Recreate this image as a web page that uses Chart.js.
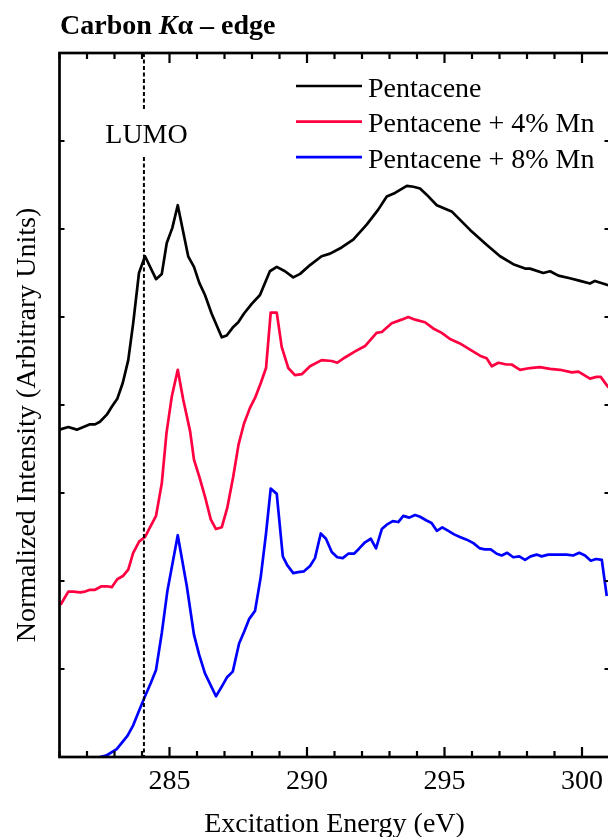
<!DOCTYPE html>
<html lang="en">
<head>
    <meta charset="UTF-8">
    <title>Carbon K-alpha edge</title>
    <script src="https://cdn.jsdelivr.net/npm/chart.js"></script>
    <style>
        body { margin: 0; overflow: hidden; background: #fff; }
    </style>
</head>
<body>
    <canvas id="xasChart" width="620" height="837"></canvas>
    <script>
        // Series labels and colours
        const seriesLabels = ['Pentacene', 'Pentacene + 4% Mn', 'Pentacene + 8% Mn'];
        const seriesColors = ['#000000', '#ff0040', '#0000ff'];
        const xMajorTicks = [285, 290, 295, 300];
        const lumoEnergy = 284.07;

        // Pentacene (offset upward)
        const pentaceneEnergy = [281.0, 281.32, 281.63, 281.87, 282.11, 282.29, 282.47, 282.72, 282.9, 283.1,
            283.3, 283.5, 283.68, 283.89, 284.11, 284.51, 284.72, 284.9, 285.1, 285.3,
            285.68, 285.89, 286.08, 286.29, 286.53, 286.9, 287.08, 287.3, 287.5, 287.71,
            287.99, 288.29, 288.65, 288.9, 289.2, 289.5, 289.75, 290.11, 290.53, 290.84,
            291.26, 291.68, 292.17, 292.59, 292.9, 293.2, 293.63, 293.87, 294.11, 294.35,
            294.72, 295.26, 295.93, 296.53, 297.02, 297.5, 297.93, 298.11, 298.59, 298.84,
            299.14, 299.56, 299.93, 300.29, 300.47, 300.96];
        const pentaceneIntensity = [3.72, 3.75, 3.72, 3.75, 3.78, 3.78, 3.81, 3.89, 3.98, 4.07,
            4.25, 4.51, 4.93, 5.5, 5.69, 5.43, 5.49, 5.84, 6.01, 6.27,
            5.69, 5.57, 5.39, 5.25, 5.04, 4.77, 4.79, 4.88, 4.94, 5.04,
            5.15, 5.25, 5.52, 5.57, 5.52, 5.45, 5.49, 5.59, 5.69, 5.72,
            5.79, 5.88, 6.05, 6.22, 6.37, 6.41, 6.49, 6.48, 6.46, 6.39,
            6.27, 6.2, 5.99, 5.82, 5.69, 5.6, 5.55, 5.55, 5.5, 5.52,
            5.47, 5.44, 5.41, 5.38, 5.41, 5.36];

        // Pentacene + 4% Mn
        const mn4Energy = [281.04, 281.32, 281.5, 281.75, 281.93, 282.11, 282.29, 282.53, 282.72, 282.9,
            283.1, 283.32, 283.5, 283.68, 283.9, 284.11, 284.29, 284.51, 284.72, 284.89,
            285.08, 285.3, 285.5, 285.75, 285.89, 286.08, 286.29, 286.5, 286.69, 286.9,
            287.1, 287.32, 287.51, 287.71, 287.93, 288.11, 288.32, 288.51, 288.68, 288.9,
            289.08, 289.32, 289.56, 289.81, 290.11, 290.53, 290.9, 291.1, 291.38, 291.75,
            292.11, 292.53, 292.72, 293.08, 293.44, 293.68, 293.93, 294.29, 294.59, 294.9,
            295.2, 295.56, 295.93, 296.29, 296.53, 296.72, 296.96, 297.26, 297.44, 297.75,
            298.11, 298.47, 298.84, 299.2, 299.63, 299.87, 300.29, 300.53, 300.68, 300.96];
        const mn4Intensity = [1.73, 1.88, 1.88, 1.87, 1.88, 1.9, 1.9, 1.94, 1.94, 1.93,
            2.02, 2.06, 2.13, 2.32, 2.45, 2.5, 2.61, 2.74, 3.11, 3.68,
            4.09, 4.4, 4.06, 3.7, 3.38, 3.19, 2.96, 2.7, 2.59, 2.61,
            2.83, 3.19, 3.55, 3.79, 3.97, 4.08, 4.25, 4.42, 5.05, 5.05,
            4.66, 4.42, 4.34, 4.35, 4.44, 4.51, 4.5, 4.48, 4.54, 4.61,
            4.67, 4.82, 4.83, 4.93, 4.97, 5.0, 4.97, 4.94, 4.87, 4.82,
            4.75, 4.7, 4.63, 4.56, 4.53, 4.44, 4.48, 4.46, 4.46, 4.4,
            4.42, 4.43, 4.41, 4.4, 4.37, 4.38, 4.3, 4.32, 4.32, 4.2];

        // Pentacene + 8% Mn
        const mn8Energy = [282.47, 282.72, 283.08, 283.47, 283.68, 283.9, 284.11, 284.32, 284.51, 284.72,
            284.92, 285.3, 285.63, 285.89, 286.08, 286.29, 286.69, 286.9, 287.1, 287.3,
            287.53, 287.71, 287.9, 288.11, 288.32, 288.51, 288.68, 288.9, 289.12, 289.28,
            289.5, 289.68, 289.89, 290.11, 290.29, 290.5, 290.69, 290.9, 291.1, 291.3,
            291.5, 291.71, 291.9, 292.11, 292.32, 292.51, 292.72, 292.9, 293.12, 293.32,
            293.5, 293.72, 293.93, 294.11, 294.33, 294.53, 294.72, 294.92, 295.14, 295.35,
            295.56, 295.81, 296.05, 296.29, 296.47, 296.68, 296.9, 297.08, 297.28, 297.5,
            297.72, 297.93, 298.13, 298.35, 298.53, 298.77, 299.08, 299.44, 299.68, 299.9,
            300.11, 300.32, 300.51, 300.72, 300.9];
        const mn8Intensity = [0.0, 0.02, 0.09, 0.24, 0.36, 0.53, 0.69, 0.84, 0.99, 1.41,
            1.88, 2.52, 1.94, 1.39, 1.16, 0.95, 0.69, 0.8, 0.91, 0.97,
            1.29, 1.42, 1.57, 1.66, 2.05, 2.54, 3.05, 2.99, 2.28, 2.18,
            2.09, 2.1, 2.11, 2.17, 2.26, 2.54, 2.48, 2.33, 2.27, 2.26,
            2.31, 2.31, 2.37, 2.44, 2.48, 2.37, 2.59, 2.64, 2.68, 2.67,
            2.74, 2.72, 2.75, 2.73, 2.69, 2.66, 2.57, 2.61, 2.57, 2.53,
            2.5, 2.47, 2.43, 2.37, 2.36, 2.36, 2.31, 2.29, 2.32, 2.27,
            2.28, 2.24, 2.28, 2.3, 2.28, 2.3, 2.3, 2.3, 2.29, 2.32,
            2.29, 2.23, 2.25, 2.24, 1.83];

        const SERIF = '"Liberation Serif", "Times New Roman", serif';

        function zip(xs, ys) {
            return xs.map((x, i) => ({ x: x, y: ys[i] }));
        }

        const seriesData = [
            zip(pentaceneEnergy, pentaceneIntensity),
            zip(mn4Energy, mn4Intensity),
            zip(mn8Energy, mn8Intensity)
        ];

        // frame, inward ticks, LUMO marker, title, legend and axis titles
        const decorations = {
            id: 'decorations',
            afterDraw(chart) {
                const ctx = chart.ctx;
                const area = chart.chartArea;
                const xs = chart.scales.x;
                const ys = chart.scales.y;
                ctx.save();

                // LUMO dashed marker
                const lx = xs.getPixelForValue(lumoEnergy);
                ctx.strokeStyle = '#000';
                ctx.lineWidth = 2;
                ctx.setLineDash([4, 2.5]);
                ctx.beginPath();
                ctx.moveTo(lx, area.top);
                ctx.lineTo(lx, 109);
                ctx.moveTo(lx, 157);
                ctx.lineTo(lx, area.bottom);
                ctx.stroke();
                ctx.setLineDash([]);

                ctx.fillStyle = '#000';
                ctx.font = '28px ' + SERIF;
                ctx.textAlign = 'center';
                ctx.textBaseline = 'alphabetic';
                ctx.fillText('LUMO', 146.5, 143);

                // frame
                ctx.lineWidth = 2.7;
                ctx.strokeRect(area.left, area.top, area.right - area.left, area.bottom - area.top);

                // x ticks, top and bottom, pointing inward
                ctx.lineWidth = 2.2;
                ctx.beginPath();
                xs.ticks.forEach(t => {
                    const px = xs.getPixelForValue(t.value);
                    const len = xMajorTicks.includes(t.value) ? 10 : 6;
                    ctx.moveTo(px, area.bottom);
                    ctx.lineTo(px, area.bottom - len);
                    ctx.moveTo(px, area.top);
                    ctx.lineTo(px, area.top + len);
                });
                // y ticks on the left edge
                ys.ticks.forEach(t => {
                    const py = ys.getPixelForValue(t.value);
                    ctx.moveTo(area.left, py);
                    ctx.lineTo(area.left + 5, py);
                    ctx.moveTo(area.right, py);
                    ctx.lineTo(area.right - 5, py);
                });
                ctx.stroke();

                // title with italic K
                ctx.textAlign = 'left';
                let tx = 60;
                const ty = 34;
                const parts = [
                    ['bold 28px ' + SERIF, 'Carbon '],
                    ['italic bold 28px ' + SERIF, 'K'],
                    ['bold 28px ' + SERIF, 'α – edge']
                ];
                parts.forEach(([font, text]) => {
                    ctx.font = font;
                    ctx.fillText(text, tx, ty);
                    tx += ctx.measureText(text).width;
                });

                // legend
                ctx.font = '28px ' + SERIF;
                chart.data.datasets.forEach((ds, i) => {
                    const y = 86 + i * 35.6;
                    ctx.strokeStyle = ds.borderColor;
                    ctx.lineWidth = 2.7;
                    ctx.beginPath();
                    ctx.moveTo(296, y);
                    ctx.lineTo(362, y);
                    ctx.stroke();
                    ctx.fillStyle = '#000';
                    ctx.fillText(ds.label, 368, y + 10.5);
                });

                // axis titles
                ctx.textAlign = 'center';
                ctx.fillText('Excitation Energy (eV)', (area.left + area.right) / 2, 832);
                ctx.translate(35, 425);
                ctx.rotate(-Math.PI / 2);
                ctx.fillText('Normalized Intensity (Arbitrary Units)', 0, 0);

                ctx.restore();
            }
        };

        const ctx = document.getElementById('xasChart').getContext('2d');
        new Chart(ctx, {
            type: 'line',
            data: {
                datasets: seriesData.map((data, i) => ({
                    label: seriesLabels[i],
                    data: data,
                    borderColor: seriesColors[i],
                    borderWidth: 2.7,
                    borderJoinStyle: 'round',
                    pointRadius: 0,
                    tension: 0,
                    fill: false
                }))
            },
            options: {
                responsive: false,
                animation: false,
                layout: {
                    padding: { top: 53, right: 10.5, left: 0, bottom: 0 }
                },
                scales: {
                    x: {
                        type: 'linear',
                        min: 281,
                        max: 301,
                        grid: { display: false, drawTicks: false },
                        border: { display: false },
                        ticks: {
                            stepSize: 1,
                            autoSkip: false,
                            maxRotation: 0,
                            padding: 8,
                            color: '#000',
                            font: { family: SERIF, size: 28 },
                            callback: value => xMajorTicks.includes(value) ? String(value) : ''
                        },
                        afterFit: scale => { scale.height = 80; }
                    },
                    y: {
                        min: 0,
                        max: 8,
                        grid: { display: false, drawTicks: false },
                        border: { display: false },
                        ticks: { display: false, stepSize: 1 },
                        afterFit: scale => { scale.width = 59.5; }
                    }
                },
                plugins: {
                    legend: { display: false },
                    tooltip: { enabled: false }
                }
            },
            plugins: [decorations]
        });
    </script>
</body>
</html>
